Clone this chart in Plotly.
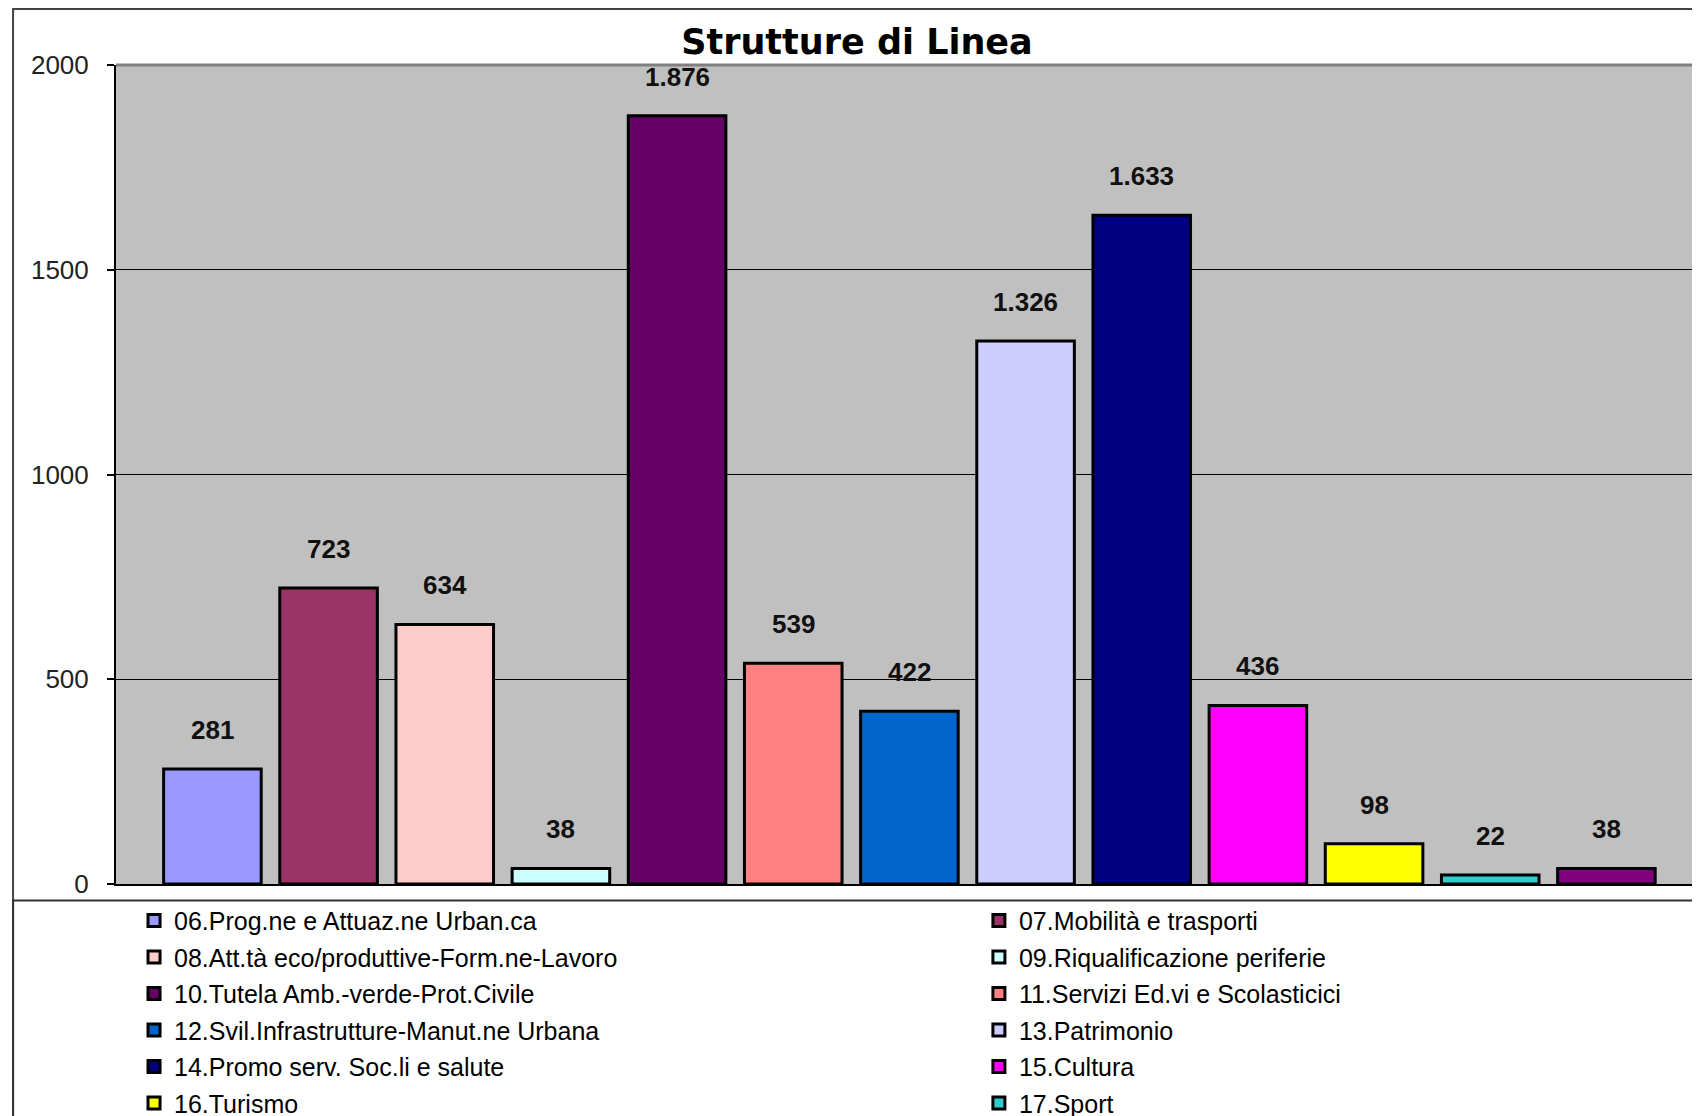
import plotly.graph_objects as go

codes = ["06", "07", "08", "09", "10", "11", "12", "13", "14", "15", "16", "17", "18"]
names = [
    "06.Prog.ne e Attuaz.ne Urban.ca",
    "07.Mobilità e trasporti",
    "08.Att.tà eco/produttive-Form.ne-Lavoro",
    "09.Riqualificazione periferie",
    "10.Tutela Amb.-verde-Prot.Civile",
    "11.Servizi Ed.vi e Scolasticici",
    "12.Svil.Infrastrutture-Manut.ne Urbana",
    "13.Patrimonio",
    "14.Promo serv. Soc.li e salute",
    "15.Cultura",
    "16.Turismo",
    "17.Sport",
    "18",
]
values = [281, 723, 634, 38, 1876, 539, 422, 1326, 1633, 436, 98, 22, 38]
colors = ["#9999FF", "#993366", "#FFCCCC", "#CCFFFF", "#660066", "#FF8080",
          "#0066CC", "#CCCCFF", "#000080", "#FF00FF", "#FFFF00", "#33CCCC", "#800080"]

fig = go.Figure()
for i, (c, n, v, col) in enumerate(zip(codes, names, values, colors)):
    fig.add_trace(go.Bar(
        x=[c], y=[v], name=n,
        marker=dict(color=col, line=dict(color="black", width=3)),
        legend="legend" if i % 2 == 0 else "legend2",
        legendgroup=c,
        showlegend=(c != "18"),
    ))

# data labels, Italian thousands separator (x given as category index)
for i, v in enumerate(values):
    fig.add_annotation(
        x=i, y=v, text=f"{v:,}".replace(",", "."), showarrow=False,
        yshift=39, yanchor="middle",
        font=dict(family="Liberation Sans, Arial", size=26, color="#111111", weight="bold"),
    )

legend_style = dict(
    orientation="v", yanchor="top", xanchor="left", y=-0.0168,
    bgcolor="rgba(0,0,0,0)", traceorder="grouped", tracegroupgap=1,
    font=dict(family="Liberation Sans, Arial", size=25, color="black"),
    itemclick=False,
)

fig.update_layout(
    width=1700, height=1116,
    margin=dict(l=108, r=11, t=57, b=240, autoexpand=False),
    paper_bgcolor="white", plot_bgcolor="#C0C0C0",
    barmode="overlay", bargap=0.16,
    title=dict(text="<b>Strutture di Linea</b>", x=0.4994, xanchor="center",
               y=0.9695, yanchor="middle",
               font=dict(family="DejaVu Sans", size=35, color="black")),
    legend=dict(x=0.0114, **legend_style),
    legend2=dict(x=0.5458, **legend_style),
    xaxis=dict(
        type="category", categoryorder="array", categoryarray=codes,
        range=[-0.83, 12.78], showticklabels=False, ticks="",
        showline=True, linecolor="black", linewidth=2, showgrid=False,
    ),
    yaxis=dict(
        range=[0, 2000], tickvals=[0, 500, 1000, 1500, 2000],
        showgrid=True, gridcolor="black", gridwidth=1,
        showline=True, linecolor="black", linewidth=2,
        ticks="outside", ticklen=7, tickcolor="black", tickwidth=2,
        ticklabelstandoff=13,
        tickfont=dict(family="Liberation Sans, Arial", size=26, color="#222222"),
        zeroline=False,
    ),
    shapes=[
        # plot area top border
        dict(type="line", xref="paper", yref="paper", x0=0, x1=1, y0=1, y1=1,
             line=dict(color="#808080", width=3)),
        # outer chart frame
        dict(type="rect", xref="paper", yref="paper", x0=-0.0651, x1=1.02, y0=-0.5, y1=1.0684,
             line=dict(color="#444444", width=2)),
        # legend box
        dict(type="rect", xref="paper", yref="paper", x0=-0.0651, x1=0.999, y0=-0.5, y1=-0.020,
             line=dict(color="#333333", width=2)),
    ],
    showlegend=True,
)

fig.write_html("out.html")
